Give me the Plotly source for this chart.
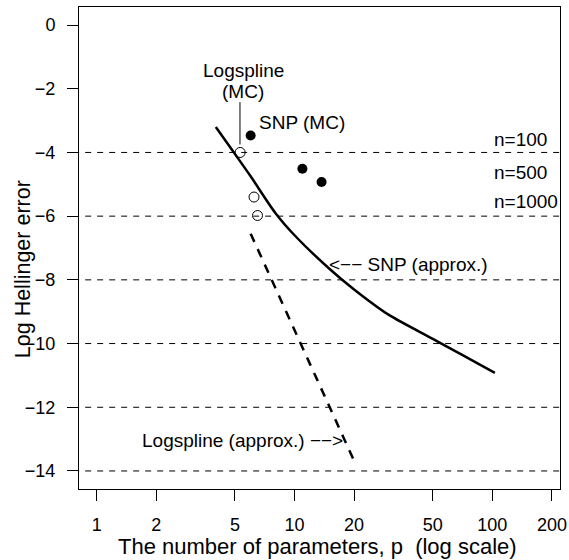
import math
import plotly.graph_objects as go

# ---- data ----
snp_approx_p = [4.0, 5.0, 6.0, 8.0, 10.0, 15.0, 20.0, 30.0, 50.0, 70.0, 103.0]
snp_approx_y = [-3.2, -4.05, -4.75, -5.9, -6.6, -7.65, -8.3, -9.1, -9.85, -10.35, -10.92]

logspline_approx_p = [6.0, 10.0, 15.0, 20.0]
logspline_approx_y = [-6.55, -9.57, -11.97, -13.68]

logspline_mc_p = [5.31, 6.24, 6.5]
logspline_mc_y = [-4.0, -5.4, -5.98]

snp_mc_p = [6.0, 10.96, 13.7]
snp_mc_y = [-3.47, -4.51, -4.93]

ref_levels = [-4, -6, -8, -10, -12, -14]
n_labels = ["n=100", "n=500", "n=1000"]
n_label_y = [-3.58, -4.64, -5.53]

x_ticks = [1, 2, 5, 10, 20, 50, 100, 200]
y_ticks = [0, -2, -4, -6, -8, -10, -12, -14]

FONT = "Liberation Sans, Arial, Helvetica, sans-serif"

fig = go.Figure()

for lv in ref_levels:
    fig.add_trace(go.Scatter(x=[0.5, 300], y=[lv, lv], mode="lines",
                             line=dict(color="black", width=1, dash="6px,6px"),
                             hoverinfo="skip", showlegend=False))

fig.add_trace(go.Scatter(x=snp_approx_p, y=snp_approx_y, mode="lines",
                         line=dict(color="black", width=2.5, shape="spline", smoothing=0.8),
                         showlegend=False))
fig.add_trace(go.Scatter(x=logspline_approx_p, y=logspline_approx_y, mode="lines",
                         line=dict(color="black", width=2.5, dash="9px,8px"),
                         showlegend=False))
fig.add_trace(go.Scatter(x=logspline_mc_p, y=logspline_mc_y, mode="markers",
                         marker=dict(symbol="circle-open", size=10, color="black",
                                     line=dict(width=1, color="black")),
                         showlegend=False))
fig.add_trace(go.Scatter(x=snp_mc_p, y=snp_mc_y, mode="markers",
                         marker=dict(symbol="circle", size=10, color="black"),
                         showlegend=False))
fig.add_trace(go.Scatter(x=[5.3, 5.3], y=[-2.42, -3.75], mode="lines",
                         line=dict(color="black", width=1), showlegend=False))

ann = []
def txt(x, y, s, xa="center", size=19):
    ann.append(dict(x=x, y=y, xref="x", yref="y", text=s, showarrow=False,
                    xanchor=xa, yanchor="middle",
                    font=dict(size=size, family=FONT, color="black")))

txt(math.log10(5.5), -1.42, "Logspline")
txt(math.log10(5.5), -2.1, "(MC)")
txt(math.log10(10.97), -3.07, "SNP (MC)")
for s, yy in zip(n_labels, n_label_y):
    txt(2.0, yy, s, xa="left")
txt(math.log10(14.6), -7.52, "<\u2212\u2212 SNP (approx.)", xa="left")
txt(math.log10(18.0), -13.05, "Logspline (approx.) \u2212\u2212>", xa="right")

# plot area spans x 79..560, y 7..489 (481 x 482 px)
ann.append(dict(x=0.4958, y=-0.1203, xref="paper", yref="paper",
                text="The number of parameters, p  (log scale)", showarrow=False,
                xanchor="center", yanchor="middle",
                font=dict(size=22, family=FONT, color="black")))
ann.append(dict(x=-0.1164, y=0.456, xref="paper", yref="paper", textangle=-90,
                text="Log Hellinger error", showarrow=False,
                xanchor="center", yanchor="middle",
                font=dict(size=21.5, family=FONT, color="black")))

fig.update_layout(
    width=569, height=560, autosize=False,
    margin=dict(l=79, r=9, t=7, b=71, autoexpand=False),
    paper_bgcolor="white", plot_bgcolor="white",
    font=dict(family=FONT, size=18, color="black"),
    annotations=ann,
)
fig.update_xaxes(type="log", range=[-0.0895, 2.342], tickvals=x_ticks,
                 ticktext=[str(v) for v in x_ticks], automargin=False,
                 showgrid=False, zeroline=False, showline=True, mirror=True,
                 linecolor="black", linewidth=1, ticks="outside", ticklen=11,
                 tickcolor="black", tickwidth=1, ticklabelstandoff=8,
                 tickfont=dict(size=18, family=FONT, color="black"))
fig.update_yaxes(range=[-14.566, 0.566], tickvals=y_ticks,
                 ticktext=[("\u2212" + str(-v)) if v < 0 else str(v) for v in y_ticks],
                 automargin=False,
                 showgrid=False, zeroline=False, showline=True, mirror=True,
                 linecolor="black", linewidth=1, ticks="outside", ticklen=11,
                 tickcolor="black", tickwidth=1, ticklabelstandoff=8,
                 tickfont=dict(size=18, family=FONT, color="black"))

# remove the default 8px page margin so the 569x560 figure fills the window exactly
fig.write_html("out.html",
               config={"displayModeBar": False},
               post_script="document.body.style.margin='0';document.body.style.overflow='hidden';")
